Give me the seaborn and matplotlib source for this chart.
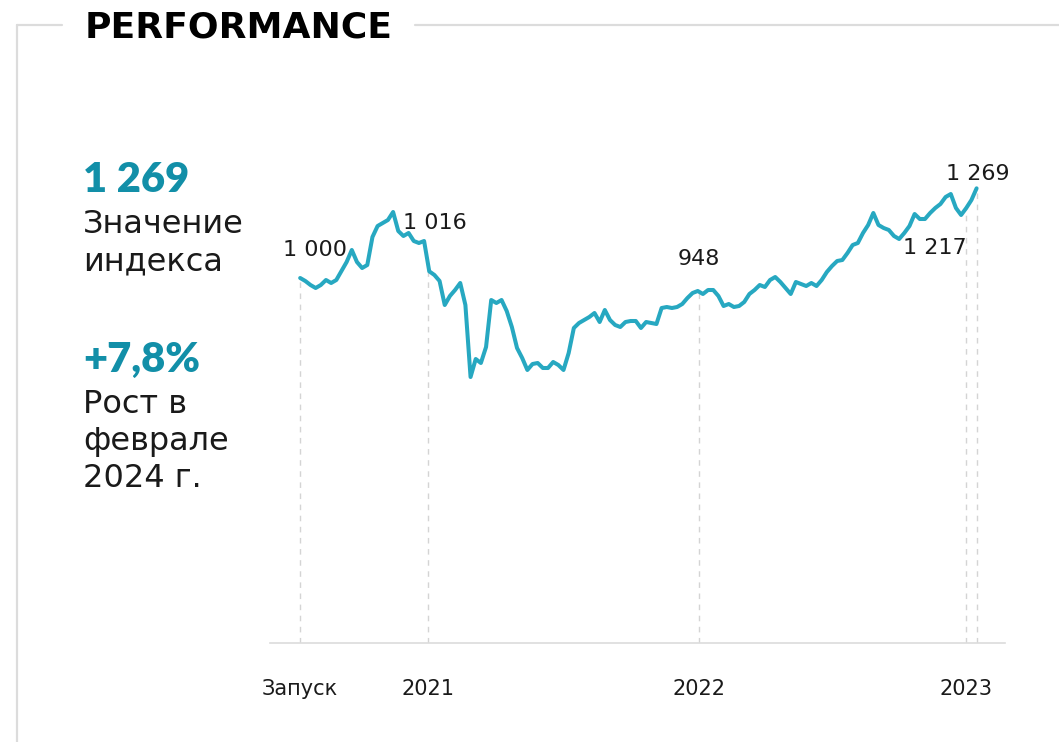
import numpy as np
import pandas as pd
import matplotlib
matplotlib.use("Agg")
import matplotlib.pyplot as plt
from matplotlib.lines import Line2D
import seaborn as sns

# ---- data (weekly index values since launch) ----
index_values = [
    1000, 991, 979, 970, 979, 994, 985, 994, 1021, 1048,
    1084, 1048, 1030, 1039, 1123, 1156, 1165, 1174, 1198, 1141,
    1126, 1135, 1111, 1105, 1111, 1020, 1009, 991, 919, 946,
    964, 985, 919, 703, 757, 745, 793, 934, 925, 934,
    901, 853, 790, 760, 724, 742, 745, 730, 730, 748,
    739, 724, 775, 850, 865, 874, 883, 895, 868, 904,
    874, 859, 853, 868, 871, 871, 850, 868, 865, 862,
    910, 913, 910, 913, 922, 940, 955, 961, 952, 964,
    964, 946, 916, 922, 913, 916, 928, 952, 964, 979,
    973, 994, 1003, 988, 970, 952, 988, 982, 976, 985,
    976, 994, 1018, 1036, 1051, 1054, 1075, 1099, 1105, 1135,
    1159, 1195, 1159, 1150, 1144, 1126, 1117, 1135, 1156, 1192,
    1177, 1177, 1195, 1210, 1222, 1243, 1252, 1210, 1189, 1210,
    1234, 1269,
]
tick_weeks = [0, 24.7, 77.2, 129]
tick_labels = ["Запуск", "2021", "2022", "2023"]
marker_weeks = [0, 24.7, 77.2, 129, 131]
marker_labels = ["1 000", "1 016", "948", "1 217", "1 269"]

headline_value = "1 269"
headline_caption = ["Значение", "индекса"]
growth_value = "+7,8%"
growth_caption = ["Рост в", "феврале", "2024 г."]

weeks = np.arange(len(index_values))
df = pd.DataFrame({"week": weeks, "value": index_values})

# ---- style ----
sns.set_style("white")
plt.rcParams["font.family"] = ["DejaVu Sans"]
LINE_C = "#27a8c1"
TEXT_TEAL = "#128fa8"
GRID_C = "#d4d4d4"
FRAME_C = "#dcdcdc"

W, H = 1059, 742
fig = plt.figure(figsize=(W / 100, H / 100), dpi=100)

# axes placement (pixel geometry)
ax_left, ax_right = 270, 1005
ax_top, ax_bottom = 150, 643
ax = fig.add_axes([ax_left / W, 1 - ax_bottom / H, (ax_right - ax_left) / W, (ax_bottom - ax_top) / H])

sns.lineplot(data=df, x="week", y="value", ax=ax, color=LINE_C, linewidth=2.9, legend=False,
             solid_joinstyle="round", solid_capstyle="round")

ymin, ymax = -95, 1384
ax.set_ylim(ymin, ymax)
ax.set_xlim(-5.84, 136.5)

# dashed guide lines
for wk in marker_weeks:
    top = np.interp(wk, weeks, index_values)
    ax.vlines(wk, ymin, top, colors=GRID_C, linestyles=(0, (4, 4)), linewidth=1, zorder=1)

# annotations
offsets = {
    "1 000": (11, 16, "center"),
    "1 016": (5, 24, "center"),
    "948": (0, 19, "center"),
    "1 217": (0, -33, "right"),
    "1 269": (1, 6, "center"),
}
for wk, lab in zip(marker_weeks, marker_labels):
    yv = np.interp(wk, weeks, index_values)
    dx, dy, ha = offsets[lab]
    ax.annotate(lab, xy=(wk, yv), xytext=(dx, dy), textcoords="offset points",
                ha=ha, va="baseline", fontsize=16, color="#1a1a1a")

# axis styling
for s in ["top", "right", "left"]:
    ax.spines[s].set_visible(False)
ax.spines["bottom"].set_color(FRAME_C)
ax.spines["bottom"].set_linewidth(1.2)
ax.set_yticks([])
ax.set_xticks(tick_weeks)
ax.set_xticklabels(tick_labels, fontsize=15, color="#1a1a1a")
ax.tick_params(axis="x", length=0, pad=26)
ax.set_xlabel("")
ax.set_ylabel("")

# ---- frame and title ----
def px(x, y):
    return x / W, 1 - y / H

lw_frame = 1.6
fig.add_artist(Line2D([px(17, 0)[0], px(17, 0)[0]], [px(0, 25)[1], 0], color=FRAME_C, lw=lw_frame))
fig.add_artist(Line2D([px(17, 0)[0], px(62, 0)[0]], [px(0, 25)[1]] * 2, color=FRAME_C, lw=lw_frame))
fig.add_artist(Line2D([px(415, 0)[0], 1], [px(0, 25)[1]] * 2, color=FRAME_C, lw=lw_frame))

fig.text(*px(85, 38), "PERFORMANCE", fontsize=26, fontweight="bold", color="black",
         ha="left", va="baseline")

# ---- left panel ----
fig.text(*px(83, 192), headline_value, fontsize=30, fontweight="heavy", color=TEXT_TEAL,
         family=["Lato", "DejaVu Sans"], ha="left", va="baseline")
for i, line in enumerate(headline_caption):
    fig.text(*px(83, 233 + 37 * i), line, fontsize=23, color="#1a1a1a", ha="left", va="baseline")

fig.text(*px(83, 372), growth_value, fontsize=30, fontweight="heavy", color=TEXT_TEAL,
         family=["Lato", "DejaVu Sans"], ha="left", va="baseline")
for i, line in enumerate(growth_caption):
    fig.text(*px(83, 413 + 37 * i), line, fontsize=23, color="#1a1a1a", ha="left", va="baseline")

fig.savefig("out.png", dpi=100)
